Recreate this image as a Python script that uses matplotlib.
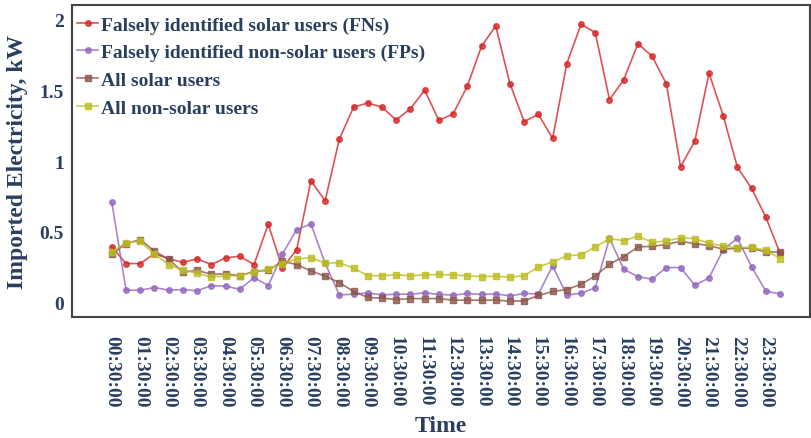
import matplotlib
matplotlib.use("Agg")
import matplotlib.pyplot as plt
import numpy as np

# half-hourly readings, 00:30 .. 24:00
fn_users = [0.394, 0.277, 0.277, 0.347, 0.31, 0.286, 0.31, 0.27, 0.317, 0.329,
            0.27, 0.554, 0.244, 0.375, 0.861, 0.72, 1.155, 1.38, 1.41, 1.38,
            1.29, 1.37, 1.50, 1.287, 1.333, 1.528, 1.81, 1.953, 1.545, 1.279,
            1.329, 1.16, 1.688, 1.965, 1.906, 1.434, 1.573, 1.828, 1.739, 1.545,
            0.96, 1.141, 1.62, 1.32, 0.955, 0.807, 0.603, 0.35]
fp_users = [0.709, 0.089, 0.089, 0.108, 0.089, 0.094, 0.085, 0.122, 0.117, 0.096,
            0.178, 0.122, 0.345, 0.516, 0.556, 0.28, 0.056, 0.061, 0.070, 0.056,
            0.061, 0.061, 0.070, 0.06, 0.054, 0.066, 0.059, 0.063, 0.049, 0.066,
            0.063, 0.26, 0.054, 0.068, 0.106, 0.455, 0.237, 0.185, 0.167, 0.249,
            0.249, 0.124, 0.176, 0.376, 0.455, 0.253, 0.082, 0.063]
solar_users = [0.343, 0.418, 0.446, 0.364, 0.308, 0.216, 0.23, 0.2, 0.204, 0.192,
               0.221, 0.23, 0.293, 0.27, 0.225, 0.188, 0.143, 0.08, 0.038, 0.033,
               0.023, 0.03, 0.03, 0.03, 0.019, 0.019, 0.019, 0.019, 0.012, 0.014,
               0.052, 0.08, 0.094, 0.131, 0.19, 0.272, 0.326, 0.394, 0.399, 0.411,
               0.434, 0.418, 0.404, 0.378, 0.385, 0.385, 0.359, 0.359]
nonsolar_users = [0.359, 0.425, 0.434, 0.343, 0.27, 0.23, 0.209, 0.181, 0.19, 0.19,
                  0.218, 0.237, 0.277, 0.31, 0.319, 0.279, 0.284, 0.244, 0.192, 0.192,
                  0.197, 0.192, 0.197, 0.2, 0.197, 0.19, 0.185, 0.188, 0.181, 0.192,
                  0.253, 0.289, 0.331, 0.34, 0.394, 0.453, 0.439, 0.47, 0.427, 0.437,
                  0.458, 0.453, 0.42, 0.401, 0.389, 0.392, 0.371, 0.312]
time_labels = ['00:30:00', '01:30:00', '02:30:00', '03:30:00', '04:30:00', '05:30:00',
               '06:30:00', '07:30:00', '08:30:00', '09:30:00', '10:30:00', '11:30:00',
               '12:30:00', '13:30:00', '14:30:00', '15:30:00', '16:30:00', '17:30:00',
               '18:30:00', '19:30:00', '20:30:00', '21:30:00', '22:30:00', '23:30:00']

TEXT_COLOR = '#2a3f5f'
plt.rcParams['font.family'] = ['Liberation Serif', 'DejaVu Serif']
plt.rcParams['font.weight'] = 'bold'

fig = plt.figure(figsize=(8.12, 4.39), dpi=100)
ax = fig.add_axes([0.0887, 0.2756, 0.9088, 0.7104])

x = np.arange(len(fn_users))
ax.plot(x, fn_users, color='#d62728', alpha=0.8, lw=1.2, marker='o', ms=4,
        label='Falsely identified solar users (FNs)')
ax.plot(x, fp_users, color='#9467bd', alpha=0.8, lw=1.2, marker='o', ms=4,
        label='Falsely identified non-solar users (FPs)')
ax.plot(x, solar_users, color='#8c564b', alpha=0.8, lw=1.2, marker='s', ms=4.5,
        label='All solar users')
ax.plot(x, nonsolar_users, color='#bcbd22', alpha=0.8, lw=1.2, marker='s', ms=4.5,
        label='All non-solar users')

ax.set_xlim(-2.8, 49.1)
ax.set_ylim(-0.1, 2.1)
ax.set_xticks(x[::2])
ax.set_xticklabels(time_labels, rotation=-90, fontsize=14, color=TEXT_COLOR,
                   fontweight='bold')
ax.set_yticks([0, 0.5, 1, 1.5, 2])
ax.set_yticklabels(['0', '0.5', '1', '1.5', '2'], fontsize=14, color=TEXT_COLOR,
                   fontweight='bold')
ax.tick_params(length=0)
ax.tick_params(axis='x', pad=13)
ax.tick_params(axis='y', pad=6)

for s in ax.spines.values():
    s.set_color('#444444')
    s.set_linewidth(1.5)

ax.set_xlabel('Time', fontsize=17, color=TEXT_COLOR, fontweight='bold', labelpad=6)
ax.set_ylabel('Imported Electricity, kW', fontsize=17, color=TEXT_COLOR,
              fontweight='bold', labelpad=8)

leg = ax.legend(loc='upper left', bbox_to_anchor=(-0.008, 1.0), frameon=False,
                handlelength=1.1, handletextpad=0.15, labelspacing=0.52,
                borderaxespad=0.1, borderpad=0.45,
                prop={'weight': 'bold', 'size': 14})
for t in leg.get_texts():
    t.set_color(TEXT_COLOR)

fig.savefig('out.png', dpi=100)
